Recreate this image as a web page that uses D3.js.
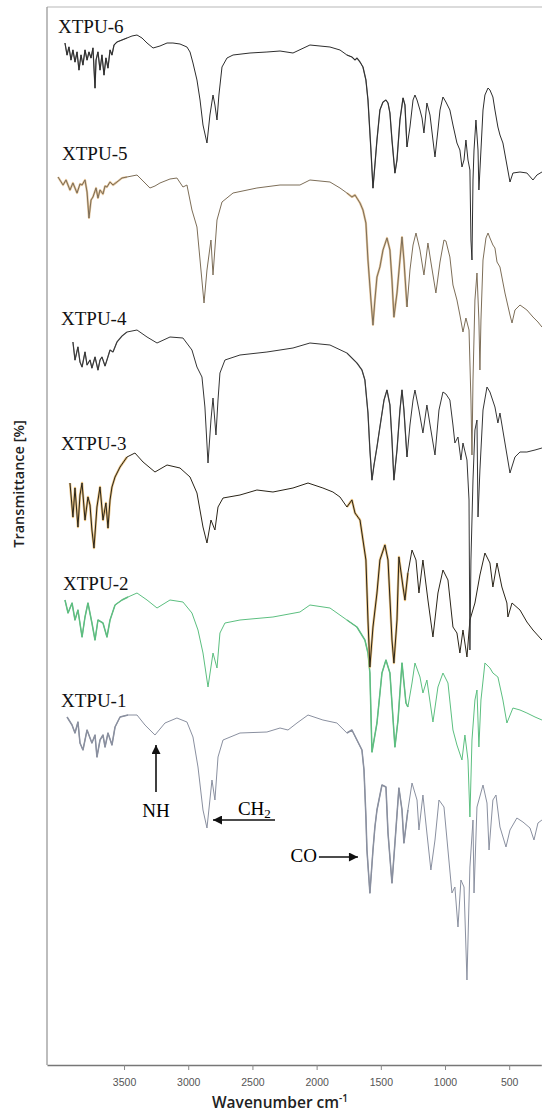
<!DOCTYPE html>
<html>
<head>
<meta charset="utf-8">
<script src="https://cdn.jsdelivr.net/npm/d3@7"></script>
<style>
  body { margin: 0; background: #fff; }
  svg { display: block; }
</style>
</head>
<body>
<div id="chart"></div>
<script>
const WIDTH = 542;
const HEIGHT = 1115;
const MARGIN = { LEFT: 47, TOP: 7, BOTTOM: 1065 };

// spectra: [wavenumber (cm-1), drop below the 2000 cm-1 plateau (a.u.)]
const SERIES_NAMES = ["XTPU-1", "XTPU-2", "XTPU-3", "XTPU-4", "XTPU-5", "XTPU-6"];
const OFFSETS = [345, 457, 578, 719, 883, 1015];

const XTPU_1 = [
  [3944,-3],[3905,5],[3882,13],[3859,2],[3843,23],[3820,30],[3788,10],[3765,18],[3750,23],[3726,15],
  [3711,37],[3687,20],[3664,15],[3648,27],[3625,13],[3594,25],[3570,7],[3531,-3],[3469,-5],[3399,-5],
  [3337,5],[3259,15],[3181,3],[3088,-2],[3010,2],[2963,17],[2924,47],[2885,90],[2854,108],[2815,60],
  [2792,80],[2768,37],[2729,20],[2597,13],[2387,12],[2285,8],[2223,10],[2153,3],[2067,-5],[1951,0],
  [1842,3],[1764,13],[1725,10],[1686,20],[1647,30],[1631,50],[1616,97],[1608,130],[1585,173],[1561,130],
  [1546,107],[1530,90],[1491,65],[1460,67],[1444,113],[1413,163],[1390,123],[1359,68],[1335,90],[1320,123],
  [1289,90],[1257,63],[1218,80],[1203,110],[1172,75],[1141,113],[1110,150],[1078,120],[1047,80],[1008,87],
  [977,130],[946,173],[923,167],[899,207],[876,160],[852,167],[829,260],[806,147],[782,100],[774,173],
  [751,87],[704,65],[673,83],[657,130],[627,80],[603,75],[572,107],[525,127],[494,110],[440,98],
  [393,102],[338,108],[307,120],[276,103],[245,100],
];

const XTPU_2 = [
  [3960,-8],[3936,5],[3905,-5],[3882,12],[3859,2],[3827,29],[3804,9],[3781,-5],[3750,15],[3726,32],
  [3703,12],[3664,15],[3633,29],[3609,12],[3570,-3],[3516,-8],[3469,-11],[3399,-15],[3321,-8],[3243,0],
  [3142,-8],[3041,-6],[2971,5],[2924,22],[2885,45],[2846,79],[2807,45],[2776,60],[2753,25],[2714,15],
  [2597,12],[2340,9],[2130,4],[2052,-3],[1896,0],[1764,12],[1686,19],[1624,32],[1600,45],[1585,65],
  [1569,144],[1546,127],[1530,115],[1491,65],[1460,52],[1429,65],[1390,139],[1366,112],[1335,55],[1304,95],
  [1289,99],[1257,75],[1234,55],[1195,69],[1172,85],[1141,72],[1094,114],[1055,79],[1016,65],[977,75],
  [938,122],[907,137],[868,152],[845,127],[821,152],[806,209],[790,132],[767,92],[751,82],[736,139],
  [720,92],[689,55],[650,60],[627,65],[588,69],[549,92],[518,115],[471,100],[416,102],[362,105],
  [299,109],[245,112],
];

const XTPU_3 = [
  [3921,-4],[3898,30],[3882,1],[3859,40],[3843,8],[3827,-4],[3804,33],[3781,10],[3765,18],[3750,43],
  [3734,61],[3711,20],[3687,0],[3664,33],[3641,16],[3625,41],[3609,13],[3594,0],[3570,-10],[3531,-20],
  [3477,-30],[3415,-34],[3352,-25],[3259,-15],[3165,-22],[3064,-19],[2986,-10],[2932,6],[2885,40],[2854,56],
  [2823,33],[2792,43],[2768,20],[2729,11],[2597,8],[2465,3],[2340,5],[2184,1],[2067,-4],[1951,1],
  [1873,5],[1818,10],[1764,20],[1725,13],[1701,26],[1662,33],[1639,53],[1616,73],[1600,133],[1585,180],
  [1561,140],[1530,106],[1507,73],[1468,58],[1444,73],[1413,153],[1398,176],[1374,133],[1359,70],[1327,100],
  [1312,113],[1289,86],[1257,63],[1226,73],[1203,106],[1172,73],[1133,113],[1094,150],[1055,106],[1016,83],
  [977,93],[938,140],[907,146],[884,166],[860,143],[829,170],[806,133],[767,116],[728,88],[689,66],
  [650,76],[627,100],[595,76],[557,100],[518,116],[510,130],[478,116],[416,123],[362,135],[315,143],
  [245,153],
];

const XTPU_4 = [
  [3898,-4],[3882,14],[3859,1],[3843,16],[3827,21],[3804,6],[3788,19],[3765,14],[3750,22],[3726,11],
  [3703,24],[3687,14],[3672,11],[3648,20],[3633,14],[3609,4],[3586,6],[3555,-4],[3516,-10],[3477,-14],
  [3438,-15],[3399,-16],[3321,-9],[3243,-3],[3142,-9],[3041,-8],[2971,4],[2932,21],[2893,31],[2870,61],
  [2846,117],[2823,74],[2807,52],[2784,89],[2768,54],[2753,27],[2714,14],[2597,9],[2387,6],[2285,4],
  [2184,2],[2052,-3],[1896,-1],[1764,7],[1686,17],[1647,24],[1624,34],[1600,67],[1585,104],[1569,134],
  [1553,119],[1530,101],[1507,81],[1475,54],[1452,44],[1429,59],[1413,94],[1398,134],[1374,104],[1351,64],
  [1335,44],[1320,64],[1296,111],[1273,79],[1249,54],[1234,44],[1203,64],[1172,87],[1141,59],[1110,84],
  [1078,109],[1047,64],[1016,46],[993,48],[962,54],[938,79],[923,97],[899,91],[876,114],[860,97],
  [829,114],[813,154],[806,304],[798,214],[782,134],[767,84],[751,74],[743,171],[728,124],[704,64],
  [673,41],[650,46],[611,61],[588,77],[572,67],[533,97],[494,127],[455,111],[416,106],[362,106],
  [299,104],[245,102],
];

const XTPU_5 = [
  [4014,-5],[3975,3],[3952,-2],[3921,8],[3898,1],[3866,11],[3843,2],[3827,3],[3804,-2],[3788,10],
  [3773,36],[3757,18],[3742,15],[3718,6],[3703,16],[3687,8],[3664,12],[3648,4],[3633,5],[3609,0],
  [3586,3],[3555,0],[3516,-4],[3477,-5],[3438,-6],[3399,-7],[3352,-1],[3298,6],[3259,4],[3220,1],
  [3142,-3],[3088,-4],[3041,5],[3010,3],[2971,28],[2932,45],[2908,78],[2877,121],[2854,88],[2823,58],
  [2807,93],[2776,38],[2737,20],[2651,11],[2465,6],[2285,3],[2130,3],[2052,-2],[1896,0],[1818,6],
  [1764,11],[1725,15],[1701,13],[1662,21],[1639,28],[1616,41],[1600,78],[1577,118],[1561,143],[1546,118],
  [1530,95],[1507,85],[1483,68],[1452,56],[1429,68],[1413,98],[1398,135],[1374,111],[1351,78],[1335,55],
  [1320,78],[1296,125],[1273,88],[1249,63],[1226,51],[1195,68],[1164,93],[1133,61],[1110,80],[1071,111],
  [1039,80],[1008,58],[993,59],[962,75],[938,103],[907,118],[884,133],[860,150],[837,136],[813,148],
  [798,218],[790,273],[782,198],[767,118],[751,91],[736,138],[728,188],[720,138],[704,78],[681,56],
  [665,51],[650,56],[627,63],[611,66],[595,80],[572,85],[533,111],[494,133],[478,141],[455,128],
  [416,123],[362,128],[315,135],[276,140],[245,145],
];

const XTPU_6 = [
  [3960,-7],[3944,5],[3929,-3],[3913,10],[3898,0],[3882,12],[3866,2],[3851,20],[3835,5],[3820,15],
  [3804,0],[3788,10],[3773,2],[3757,8],[3742,-2],[3726,38],[3718,10],[3703,2],[3687,20],[3672,5],
  [3656,25],[3641,8],[3625,18],[3609,0],[3594,5],[3578,-5],[3555,-8],[3516,-10],[3477,-12],[3438,-14],
  [3399,-15],[3360,-12],[3321,-7],[3274,-2],[3220,-4],[3165,-7],[3119,-7],[3064,-6],[3010,-3],[2986,2],
  [2963,13],[2932,30],[2908,50],[2885,75],[2854,93],[2831,65],[2807,45],[2792,55],[2776,70],[2761,45],
  [2737,17],[2698,8],[2651,5],[2519,3],[2387,2],[2285,1],[2184,3],[2052,-5],[1896,-3],[1818,0],
  [1764,5],[1725,7],[1701,10],[1686,8],[1662,12],[1639,17],[1616,30],[1600,50],[1577,100],[1561,138],
  [1546,115],[1530,90],[1507,60],[1483,52],[1460,50],[1444,53],[1429,63],[1413,90],[1390,123],[1374,110],
  [1351,70],[1327,48],[1312,55],[1296,97],[1273,77],[1249,50],[1234,45],[1218,50],[1195,60],[1179,68],
  [1164,83],[1141,53],[1117,65],[1094,90],[1078,107],[1055,80],[1039,60],[1016,47],[993,52],[962,60],
  [938,75],[907,93],[884,100],[868,117],[852,110],[837,90],[821,110],[806,120],[798,190],[790,210],
  [782,130],[774,100],[759,70],[743,100],[736,140],[720,100],[704,60],[689,45],[665,38],[650,40],
  [627,47],[611,60],[588,77],[572,85],[549,93],[518,115],[494,132],[471,123],[416,122],[362,123],
  [315,130],[284,125],[245,122],
];

const SPECTRA = [XTPU_1, XTPU_2, XTPU_3, XTPU_4, XTPU_5, XTPU_6];
const X_TICKS = [3500, 3000, 2500, 2000, 1500, 1000, 500];

// styling and label placement (chart coordinates)
const LINE_COLORS = ["#8a90a0", "#5cbf80", "#2a2418", "#353535", "#7d6e58", "#2d2d2d"];
const ACCENT_COLORS = ["#5d6478", "#2e9e56", "#dba54a", "#444444", "#d4a86c", "#444444"];
const ACCENT_WIDTHS = [1.5, 1.5, 2.4, 1.3, 2.2, 1.3];
const LABEL_POS = [[3991, 358], [3975, 475], [3991, 615], [3991, 740], [3983, 905], [4014, 1032]];
const SERIF = "'Liberation Serif', 'Times New Roman', serif";
const SANS = "'Open Sans', 'DejaVu Sans', sans-serif";

const x = d3.scaleLinear([4100, 250], [MARGIN.LEFT, 541.3]);
const y = d3.scaleLinear([0, 1058], [MARGIN.BOTTOM, MARGIN.TOP]);

const svg = d3
  .select("#chart")
  .append("svg")
  .attr("width", WIDTH)
  .attr("height", HEIGHT);

svg
  .append("defs")
  .append("marker")
  .attr("id", "arrow")
  .attr("viewBox", "0 0 10 10")
  .attr("refX", 10)
  .attr("refY", 5)
  .attr("markerUnits", "userSpaceOnUse")
  .attr("markerWidth", 11)
  .attr("markerHeight", 9)
  .attr("orient", "auto")
  .append("path")
  .attr("d", "M0,0L10,5L0,10z")
  .attr("fill", "#111");

// frame
svg
  .append("line")
  .attr("x1", MARGIN.LEFT)
  .attr("x2", WIDTH)
  .attr("y1", MARGIN.TOP)
  .attr("y2", MARGIN.TOP)
  .attr("stroke", "#cfcfcf")
  .attr("stroke-width", 1.5);

svg
  .append("line")
  .attr("x1", MARGIN.LEFT)
  .attr("x2", MARGIN.LEFT)
  .attr("y1", MARGIN.TOP)
  .attr("y2", MARGIN.BOTTOM)
  .attr("stroke", "#9a9a9a")
  .attr("stroke-width", 1.3);

const xAxis = d3
  .axisBottom(x)
  .tickValues(X_TICKS)
  .tickFormat(d3.format("d"))
  .tickSize(5)
  .tickSizeOuter(0);

const axisGroup = svg
  .append("g")
  .attr("transform", `translate(0, ${MARGIN.BOTTOM})`)
  .call(xAxis);

axisGroup.select(".domain").attr("stroke", "#777").attr("stroke-width", 1.3);
axisGroup.selectAll(".tick line").attr("stroke", "#888");
axisGroup
  .selectAll(".tick text")
  .attr("dy", "1.2em")
  .style("font-family", "'Liberation Sans Narrow', 'Liberation Sans', Arial, sans-serif")
  .style("font-size", "10.5px")
  .attr("fill", "#555");

// spectra: a wide tinted underlay in the noisy bands, the thin trace on top
const inAccentBand = (d) => d[0] > 3450 || (d[0] < 1800 && d[0] > 1280);

SPECTRA.forEach((spectrum, i) => {
  const toPoint = [(d) => x(d[0]), (d) => y(OFFSETS[i] - d[1])];
  const line = d3.line(...toPoint);
  const accentLine = d3.line(...toPoint).defined(inAccentBand);

  svg
    .append("path")
    .datum(spectrum)
    .attr("d", accentLine)
    .attr("fill", "none")
    .attr("stroke", ACCENT_COLORS[i])
    .attr("stroke-width", ACCENT_WIDTHS[i])
    .attr("stroke-opacity", 0.7)
    .attr("stroke-linejoin", "round");

  svg
    .append("path")
    .datum(spectrum)
    .attr("d", line)
    .attr("fill", "none")
    .attr("stroke", LINE_COLORS[i])
    .attr("stroke-width", 1)
    .attr("stroke-linejoin", "round");

  svg
    .append("text")
    .attr("x", x(LABEL_POS[i][0]))
    .attr("y", y(LABEL_POS[i][1]))
    .style("font-family", SERIF)
    .style("font-size", "19px")
    .attr("fill", "#111")
    .text(SERIES_NAMES[i]);
});

// band annotations
const arrow = (w1, t1, w2, t2) =>
  svg
    .append("line")
    .attr("x1", x(w1))
    .attr("y1", y(t1))
    .attr("x2", x(w2))
    .attr("y2", y(t2))
    .attr("stroke", "#111")
    .attr("stroke-width", 1.6)
    .attr("marker-end", "url(#arrow)");

arrow(3251, 273, 3251, 320);
svg
  .append("text")
  .attr("x", x(3251))
  .attr("y", y(248))
  .style("text-anchor", "middle")
  .style("font-family", SERIF)
  .style("font-size", "19px")
  .text("NH");

arrow(2324, 245, 2807, 245);
const ch2 = svg
  .append("text")
  .attr("x", x(2613))
  .attr("y", y(250))
  .style("font-family", SERIF)
  .style("font-size", "19px")
  .text("CH");
ch2.append("tspan").attr("dy", 3).style("font-size", "13px").text("2");

arrow(1982, 208, 1678, 208);
svg
  .append("text")
  .attr("x", x(1982) - 2)
  .attr("y", y(203))
  .style("text-anchor", "end")
  .style("font-family", SERIF)
  .style("font-size", "19px")
  .text("CO");

// axis titles
const xTitle = svg
  .append("text")
  .attr("x", 280)
  .attr("y", 1108)
  .style("text-anchor", "middle")
  .style("font-family", SANS)
  .style("font-size", "15.5px")
  .style("font-weight", 600)
  .attr("fill", "#222")
  .text("Wavenumber cm");
xTitle.append("tspan").attr("dy", -6).style("font-size", "10px").text("-1");

svg
  .append("text")
  .attr("transform", "translate(24, 484) rotate(-90)")
  .style("text-anchor", "middle")
  .style("font-family", SANS)
  .style("font-size", "14.5px")
  .style("font-weight", 600)
  .attr("fill", "#222")
  .text("Transmittance [%]");
</script>
</body>
</html>
